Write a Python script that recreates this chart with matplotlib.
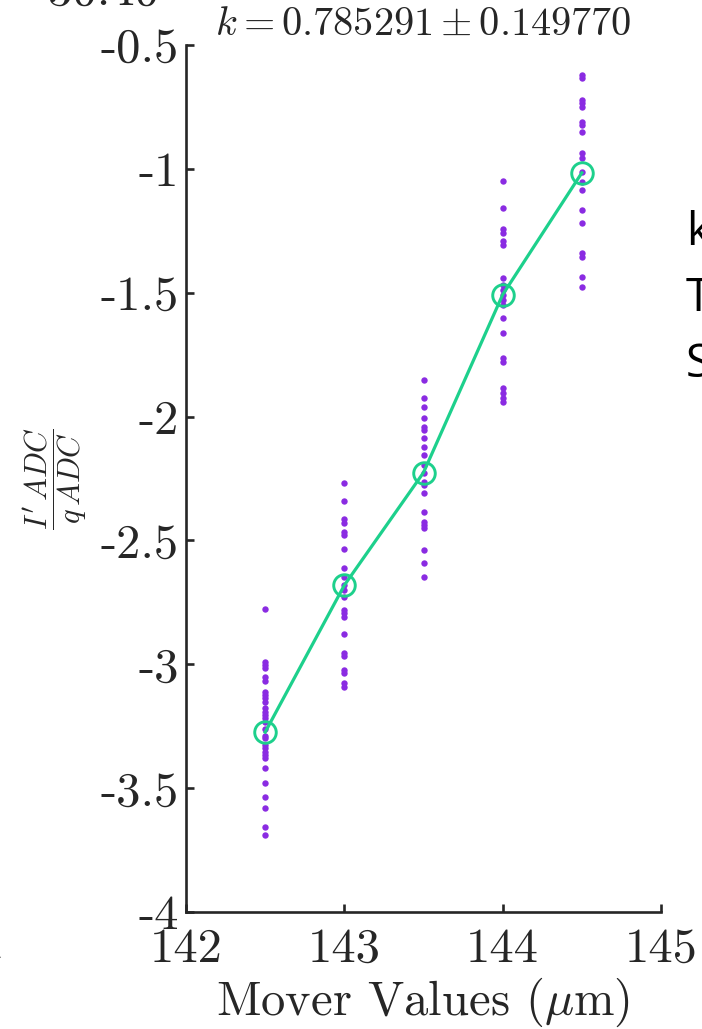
import numpy as np
import matplotlib
matplotlib.use("Agg")
import matplotlib.pyplot as plt

# mover positions (um) and measured values per position
mover = [142.5, 143.0, 143.5, 144.0, 144.5]
samples = [
    [-2.778, -2.990, -3.003, -3.016, -3.053, -3.066, -3.111, -3.124, -3.137, -3.151,
     -3.178, -3.192, -3.205, -3.218, -3.232, -3.26, -3.29, -3.299, -3.326, -3.339,
     -3.353, -3.366, -3.380, -3.420, -3.478, -3.537, -3.582, -3.656, -3.689],
    [-2.267, -2.340, -2.415, -2.431, -2.465, -2.478, -2.535, -2.613, -2.647, -2.680,
     -2.700, -2.727, -2.781, -2.794, -2.808, -2.878, -2.953, -2.967, -3.023, -3.037,
     -3.077, -3.091],
    [-1.852, -1.926, -1.960, -2.007, -2.041, -2.054, -2.088, -2.122, -2.155, -2.196,
     -2.229, -2.263, -2.276, -2.310, -2.384, -2.425, -2.438, -2.451, -2.539, -2.592,
     -2.647],
    [-1.049, -1.157, -1.243, -1.260, -1.291, -1.307, -1.439, -1.469, -1.489, -1.509,
     -1.529, -1.550, -1.603, -1.664, -1.762, -1.781, -1.886, -1.906, -1.925, -1.940],
    [-0.621, -0.634, -0.722, -0.735, -0.749, -0.810, -0.823, -0.850, -0.937, -0.957,
     -1.012, -1.052, -1.085, -1.166, -1.220, -1.341, -1.355, -1.435, -1.477],
]
means = [-3.274, -2.681, -2.226, -1.508, -1.016]

xticks = [142, 143, 144, 145]
yticks = [-4, -3.5, -3, -2.5, -2, -1.5, -1, -0.5]
ytick_labels = ['-4', '-3.5', '-3', '-2.5', '-2', '-1.5', '-1', '-0.5']

plt.rcParams['mathtext.fontset'] = 'cm'
plt.rcParams['font.family'] = 'cmr10'
plt.rcParams['axes.unicode_minus'] = False
plt.rcParams['axes.formatter.use_mathtext'] = True

fig = plt.figure(figsize=(7.02, 10.29), dpi=100)
ax = fig.add_axes([186 / 702, 1 - 912 / 1029, 475 / 702, 867 / 1029])

purple = '#8a2be2'
green = '#1dd08c'
ink = '#262626'

for xv, ys in zip(mover, samples):
    ax.plot([xv] * len(ys), ys, 'o', color=purple, markersize=4.6,
            markeredgewidth=0, linestyle='none', zorder=2)

ax.plot(mover, means, '-', color=green, linewidth=2.3, zorder=3)
ax.plot(mover, means, 'o', color=green, markerfacecolor='none',
        markersize=15.5, markeredgewidth=2.1, zorder=4)

ax.set_xlim(142, 145)
ax.set_ylim(-4, -0.5)
ax.set_xticks(xticks)
ax.set_xticklabels([str(t) for t in xticks])
ax.set_yticks(yticks)
ax.set_yticklabels(ytick_labels)

for s in ['top', 'right']:
    ax.spines[s].set_visible(False)
for s in ['left', 'bottom']:
    ax.spines[s].set_linewidth(1.9)
    ax.spines[s].set_color(ink)
ax.tick_params(direction='in', length=6, width=1.9, color=ink,
               labelsize=35, labelcolor=ink)
ax.tick_params(axis='y', pad=5)
ax.tick_params(axis='x', pad=11)

ax.set_title(r'$k = 0.785291 \pm 0.149770$', fontsize=29, pad=7, color=ink)
ax.set_xlabel(r'Mover Values ($\mu$m)', fontsize=35, color=ink, labelpad=3)
ax.set_ylabel(r"$\dfrac{I'\,ADC}{q\,ADC}$", fontsize=22, color=ink, labelpad=8)

# bits of the surrounding screenshot that are cut off at the edges
fig.text(48 / 702, 1 - 5 / 1029, '30.40', fontsize=35, va='baseline', ha='left',
         color=ink)
fig.text(-20 / 702, 1 - 958 / 1029, '1', fontsize=35, va='baseline', ha='left',
         color=ink)
for i, letter in enumerate(['k', 'T', 'S']):
    fig.text(686 / 702, 1 - (245 + 66 * i) / 1029, letter, fontsize=33,
             family='Open Sans', va='baseline', ha='left', color='black')

fig.savefig('out.png', dpi=100)
